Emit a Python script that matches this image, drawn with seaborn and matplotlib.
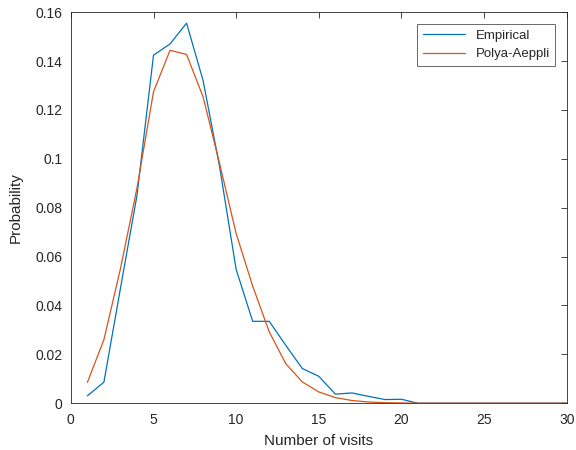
import numpy as np
import pandas as pd
import matplotlib
matplotlib.use("Agg")
import matplotlib.pyplot as plt
import seaborn as sns
from matplotlib.ticker import FuncFormatter

visits = list(range(1, 31))
empirical = [0.003, 0.0086, 0.047, 0.085, 0.1424, 0.147, 0.1555, 0.132, 0.0967, 0.0547,
             0.0335, 0.0335, 0.0237, 0.0142, 0.011, 0.0037, 0.0042, 0.0028, 0.0015, 0.0016,
             0, 0, 0, 0, 0, 0, 0, 0, 0, 0]
polya_aeppli = [0.0085, 0.026, 0.055, 0.088, 0.1274, 0.1444, 0.1427, 0.1253, 0.098, 0.0694,
                0.0479, 0.0292, 0.0162, 0.0087, 0.0046, 0.0023, 0.0011, 0.0005, 0.0002, 0.0001,
                0, 0, 0, 0, 0, 0, 0, 0, 0, 0]

df = pd.DataFrame({"visits": visits * 2,
                   "prob": empirical + polya_aeppli,
                   "series": ["Empirical"] * 30 + ["Polya-Aeppli"] * 30})

sns.set_style("white")
plt.rcParams['font.family'] = ['Liberation Sans', 'DejaVu Sans']

fig = plt.figure(figsize=(5.76, 4.5), dpi=100)
ax = fig.add_axes([0.123, 0.104, 0.861, 0.869])
sns.lineplot(data=df, x="visits", y="prob", hue="series",
             palette=["#0072BD", "#D95319"], linewidth=0.9, ax=ax)

ax.set_xlim(0, 30)
ax.set_ylim(0, 0.16)
ax.set_xticks(range(0, 31, 5))
ax.set_yticks(np.arange(0, 0.161, 0.02))
ax.yaxis.set_major_formatter(FuncFormatter(lambda v, p: "%g" % round(v, 2)))
ax.set_xlabel("Number of visits", fontsize=11, color="#262626", labelpad=5)
ax.set_ylabel("Probability", fontsize=11, color="#262626", labelpad=9)
ax.tick_params(direction="in", top=True, right=True, length=4, width=0.6,
               color="#262626", labelsize=10, labelcolor="#262626")
ax.tick_params(axis="x", pad=7)
ax.tick_params(axis="y", pad=6)
for s in ax.spines.values():
    s.set_color("#262626")
    s.set_linewidth(0.6)

leg = ax.legend(loc="upper right", fontsize=9.5, frameon=True, fancybox=False,
                edgecolor="#262626", borderaxespad=0.9, handlelength=3.2)
leg.get_frame().set_linewidth(0.6)

fig.savefig("out.png", dpi=100)
